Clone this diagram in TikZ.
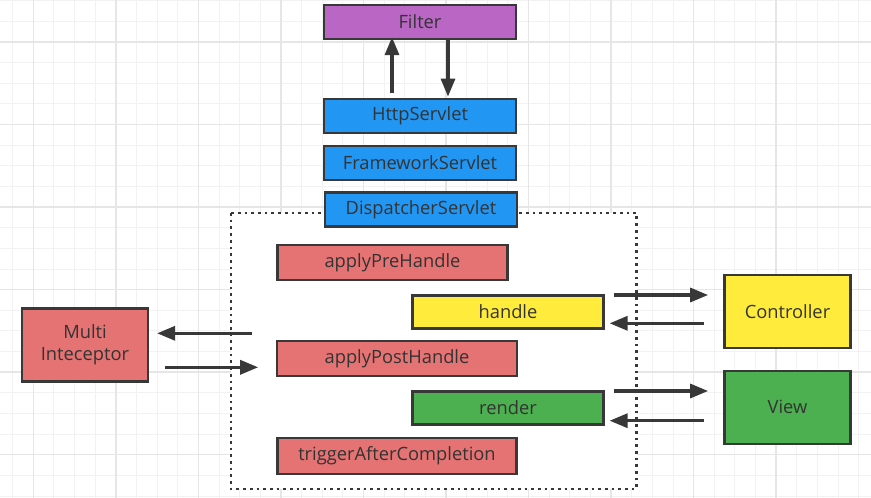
\documentclass[tikz,border=0pt]{standalone}
\usepackage{fontspec}
\setmainfont{Open Sans}
\usetikzlibrary{arrows.meta}
\definecolor{txt}{HTML}{333333}
\definecolor{bord}{HTML}{383838}
\definecolor{cpurple}{HTML}{B966C5}
\definecolor{cblue}{HTML}{2196F3}
\definecolor{cred}{HTML}{E57373}
\definecolor{cyellow}{HTML}{FFEB3B}
\definecolor{cgreen}{HTML}{4CAF50}
\definecolor{gminor}{HTML}{F2F2F2}
\definecolor{gmajor}{HTML}{E6E6E6}
\tikzset{
  box/.style={draw=bord, line width=2.2pt, rectangle, inner sep=0pt, text=txt,
    font=\fontsize{18.3}{22}\selectfont, align=center},
  arr/.style={draw=bord, line width=3.2pt, -{Triangle[length=18pt,width=14pt]}},
  minorgrid/.style={draw=gminor, line width=1pt},
  majorgrid/.style={draw=gmajor, line width=1.4pt},
  frame/.style={draw=bord, fill=white, line width=2.7pt, dash pattern=on 2.7pt off 4pt},
}
\begin{document}
\begin{tikzpicture}[x=1pt,y=-1pt]
\useasboundingbox (0,0) rectangle (871,498);
\fill[white] (0,0) rectangle (871,498);
% grid
\foreach \i in {0,...,41} \draw[minorgrid] ({12.7+20.635*\i},0) -- ({12.7+20.635*\i},498);
\foreach \i in {0,...,24} \draw[minorgrid] (0,{0.8+20.635*\i}) -- (871,{0.8+20.635*\i});
\foreach \i in {0,...,9} \draw[majorgrid] ({33.3+82.54*\i},0) -- ({33.3+82.54*\i},498);
\foreach \i in {0,...,5} \draw[majorgrid] (0,{42+82.54*\i}) -- (871,{42+82.54*\i});
% dotted frame
\draw[frame] (231,213) rectangle (636.5,489);
% nodes
\node[box, fill=cpurple, minimum width=192pt, minimum height=34pt] (filter) at (420,22) {Filter};
\node[box, fill=cblue, minimum width=192pt, minimum height=34pt] (http) at (420,116) {HttpServlet};
\node[box, fill=cblue, minimum width=192pt, minimum height=34pt] (fw) at (420,163) {FrameworkServlet};
\node[box, fill=cblue, minimum width=192pt, minimum height=34pt] (disp) at (421,209.5) {DispatcherServlet};
\node[box, fill=cred, minimum width=230pt, minimum height=35pt] (pre) at (392.5,262.5) {applyPreHandle};
\node[box, fill=cyellow, minimum width=191pt, minimum height=33pt] (handle) at (508,312) {handle};
\node[box, fill=cred, minimum width=240pt, minimum height=35pt] (post) at (397,358.5) {applyPostHandle};
\node[box, fill=cgreen, minimum width=191pt, minimum height=33pt] (render) at (508,408) {render};
\node[box, fill=cred, minimum width=239pt, minimum height=36pt] (trig) at (397,456) {triggerAfterCompletion};
\node[box, fill=cred, minimum width=126pt, minimum height=73pt] (multi) at (85,345) {Multi\\Inteceptor};
\node[box, fill=cyellow, minimum width=126pt, minimum height=73pt] (ctrl) at (787.5,311.7) {Controller};
\node[box, fill=cgreen, minimum width=126pt, minimum height=73pt] (view) at (787.5,407.3) {View};
% connectors
\draw[arr] ([xshift=-28pt,yshift=5pt]http.north) -- ([xshift=-28pt,yshift=3pt]filter.south);
\draw[arr] ([xshift=28pt]filter.south) -- ([xshift=28pt,yshift=1.3pt]http.north);
\draw[arr] ([xshift=-24.3pt,yshift=25.2pt]post.west) -- ([xshift=8pt,yshift=11.7pt]multi.east);
\draw[arr] ([xshift=16.3pt,yshift=-22.3pt]multi.east) -- ([xshift=-17.7pt,yshift=-8.8pt]post.west);
\draw[arr] ([xshift=9.4pt,yshift=17pt]handle.east) -- ([xshift=-15.3pt,yshift=16.7pt]ctrl.west);
\draw[arr] ([xshift=-19.3pt,yshift=-11.6pt]ctrl.west) -- ([xshift=5pt,yshift=-11.3pt]handle.east);
\draw[arr] ([xshift=9.4pt,yshift=17pt]render.east) -- ([xshift=-15.3pt,yshift=16.3pt]view.west);
\draw[arr] ([xshift=-19.3pt,yshift=-13.4pt]view.west) -- ([xshift=5pt,yshift=-12.7pt]render.east);
\end{tikzpicture}
\end{document}
